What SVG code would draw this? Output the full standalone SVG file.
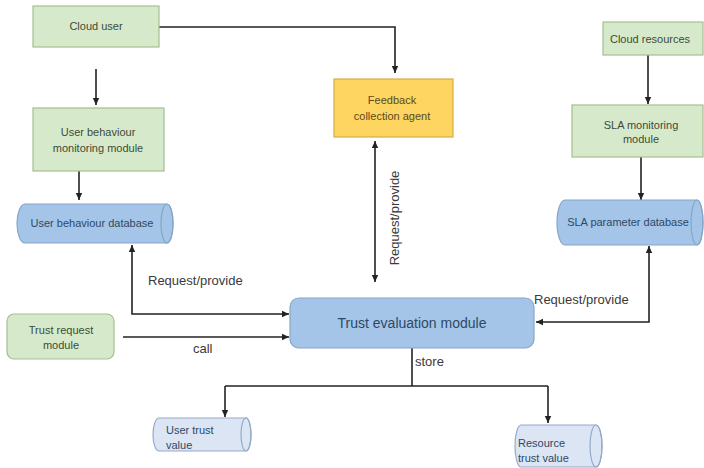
<svg xmlns="http://www.w3.org/2000/svg" width="704" height="468" viewBox="0 0 704 468">
  <style>
    .green { fill: #d6eacb; stroke: #a3bf92; stroke-width: 1.2; }
    .yellow { fill: #fdd560; stroke: #d4ad48; stroke-width: 1.2; }
    .blue { fill: #a4c5e7; stroke: #86a6c9; stroke-width: 1.2; }
    .pale { fill: #dbe5f4; stroke: #95aaca; stroke-width: 1.2; }
    .cap { fill: none; stroke: #86a6c9; stroke-width: 1.2; }
    .capPale { fill: none; stroke: #95aaca; stroke-width: 1.2; }
    text { font-family: "Liberation Sans", Arial, sans-serif; }
    .tg { font-size: 11px; fill: #3d4b38; text-anchor: middle; }
    .tb { font-size: 11px; fill: #2e4866; text-anchor: middle; }
    .tbl { font-size: 11px; fill: #2e4866; }
    .ty { font-size: 11px; fill: #5a4a20; text-anchor: middle; }
    .lbl { font-size: 13px; fill: #3a3a3a; }
    .wire { fill: none; stroke: #222; stroke-width: 1.6; }
  </style>
  <defs>
    <marker id="arrow" markerWidth="8" markerHeight="8" refX="7" refY="4" orient="auto" markerUnits="userSpaceOnUse">
      <path d="M0,0.8 L7,4 L0,7.2 Z" fill="#222"/>
    </marker>
    <marker id="arrowStart" markerWidth="8" markerHeight="8" refX="1" refY="4" orient="auto" markerUnits="userSpaceOnUse">
      <path d="M8,0.8 L1,4 L8,7.2 Z" fill="#222"/>
    </marker>
  </defs>

  <rect width="704" height="468" fill="#ffffff"/>

  <!-- connectors -->
  <g id="connectors">
    <path class="wire" d="M159,27 H395 V73" marker-end="url(#arrow)"/>
    <path class="wire" d="M96,69 V105" marker-end="url(#arrow)"/>
    <path class="wire" d="M79,171 V200" marker-end="url(#arrow)"/>
    <path class="wire" d="M648,55 V104" marker-end="url(#arrow)"/>
    <path class="wire" d="M641,157 V200" marker-end="url(#arrow)"/>
    <path class="wire" d="M375,141 V282" marker-start="url(#arrowStart)" marker-end="url(#arrow)"/>
    <path class="wire" d="M132,245 V314 H289" marker-start="url(#arrowStart)" marker-end="url(#arrow)"/>
    <path class="wire" d="M649,246 V322 H536" marker-start="url(#arrowStart)" marker-end="url(#arrow)"/>
    <path class="wire" d="M123,337 H289" marker-end="url(#arrow)"/>
    <path class="wire" d="M412,348 V386"/>
    <path class="wire" d="M225,386 H548"/>
    <path class="wire" d="M225,386 V417" marker-end="url(#arrow)"/>
    <path class="wire" d="M548,386 V423" marker-end="url(#arrow)"/>

    <text class="lbl" x="148" y="285">Request/provide</text>
    <text class="lbl" x="534" y="304">Request/provide</text>
    <text class="lbl" transform="translate(399,218) rotate(-90)" text-anchor="middle">Request/provide</text>
    <text class="lbl" x="193" y="353">call</text>
    <text class="lbl" x="415" y="366">store</text>
  </g>

  <g id="cloud-user">
    <rect class="green" x="33" y="6" width="126" height="41"/>
    <text class="tg" x="96" y="30">Cloud user</text>
  </g>

  <g id="user-behaviour-monitoring">
    <rect class="green" x="33" y="108" width="131" height="63"/>
    <text class="tg" x="98" y="136">User behaviour</text>
    <text class="tg" x="98" y="152">monitoring module</text>
  </g>

  <g id="user-behaviour-database">
    <path class="blue" d="M25,204 H167 A6,19.5 0 0 1 167,243 H25 A8,19.5 0 0 1 25,204 Z"/>
    <ellipse class="cap" cx="167" cy="223.5" rx="6" ry="19.5"/>
    <text class="tb" x="92" y="227">User behaviour database</text>
  </g>

  <g id="feedback-agent">
    <rect class="yellow" x="334" y="79" width="119" height="58"/>
    <text class="ty" x="392" y="104">Feedback</text>
    <text class="ty" x="392" y="120">collection agent</text>
  </g>

  <g id="cloud-resources">
    <rect class="green" x="603" y="22" width="100" height="33"/>
    <text class="tg" x="650" y="43">Cloud resources</text>
  </g>

  <g id="sla-monitoring">
    <rect class="green" x="572" y="105" width="131" height="52"/>
    <text class="tg" x="641" y="129">SLA monitoring</text>
    <text class="tg" x="641" y="143">module</text>
  </g>

  <g id="sla-parameter-database">
    <path class="blue" d="M565,200 H697 A6,22.5 0 0 1 697,245 H565 A8,22.5 0 0 1 565,200 Z"/>
    <ellipse class="cap" cx="697" cy="222.5" rx="6" ry="22.5"/>
    <text class="tb" x="628" y="226">SLA parameter database</text>
  </g>

  <g id="trust-request">
    <rect class="green" x="7" y="314" width="107" height="45" rx="7"/>
    <text class="tg" x="61" y="334">Trust request</text>
    <text class="tg" x="61" y="349">module</text>
  </g>

  <g id="trust-evaluation">
    <rect class="blue" x="290" y="298" width="244" height="50" rx="9"/>
    <text class="tb" x="412" y="328" style="font-size:14px">Trust evaluation module</text>
  </g>

  <g id="user-trust-value">
    <path class="pale" d="M159,418 H246 A5,16.5 0 0 1 246,451 H159 A6,16.5 0 0 1 159,418 Z"/>
    <ellipse class="capPale" cx="246" cy="434.5" rx="5" ry="16.5"/>
    <text class="tbl" x="166" y="434">User trust</text>
    <text class="tbl" x="166" y="449">value</text>
  </g>

  <g id="resource-trust-value">
    <path class="pale" d="M521,425 H596 A6,21 0 0 1 596,467 H521 A6,21 0 0 1 521,425 Z"/>
    <ellipse class="capPale" cx="596" cy="446" rx="6" ry="21"/>
    <text class="tbl" x="518" y="447">Resource</text>
    <text class="tbl" x="518" y="462">trust value</text>
  </g>
</svg>
